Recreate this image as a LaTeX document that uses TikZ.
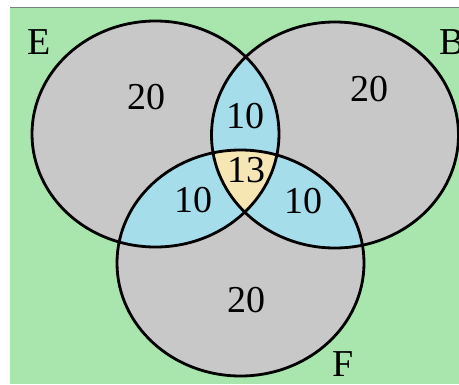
\documentclass[tikz,border=0pt]{standalone}
\usepackage{fontspec}
\setmainfont{Liberation Serif}
\definecolor{bggreen}{RGB}{168,230,174}
\definecolor{setgray}{RGB}{200,200,200}
\definecolor{pairblue}{RGB}{166,221,235}
\definecolor{tripleyellow}{RGB}{245,230,180}
\definecolor{edgegray}{RGB}{120,128,124}
\tikzset{
  setline/.style={draw=black, line width=2.8pt},
  lbl/.style={inner sep=0pt, font=\fontsize{38}{40}\selectfont},
}
\begin{document}
\begin{tikzpicture}[x=1pt,y=-1pt]
\useasboundingbox (0,0) rectangle (459,384);
\fill[white] (0,0) rectangle (459,384);
\fill[bggreen] (10,8) rectangle (459,384);
\draw[edgegray, line width=1pt] (10,7.5) -- (459,7.5);
\def\Epath{(155.5,134) ellipse [x radius=123.5pt, y radius=113pt]}
\def\Bpath{(335,135) ellipse [x radius=123.5pt, y radius=113pt]}
\def\Fpath{(240.5,263) ellipse [x radius=123.5pt, y radius=113pt]}
% base fills
\fill[setgray] \Epath;
\fill[setgray] \Bpath;
\fill[setgray] \Fpath;
% pairwise intersections
\begin{scope}\clip \Epath; \fill[pairblue] \Bpath; \end{scope}
\begin{scope}\clip \Epath; \fill[pairblue] \Fpath; \end{scope}
\begin{scope}\clip \Bpath; \fill[pairblue] \Fpath; \end{scope}
% triple intersection
\begin{scope}\clip \Epath; \clip \Bpath; \fill[tripleyellow] \Fpath; \end{scope}
% outlines
\draw[setline] \Epath;
\draw[setline] \Bpath;
\draw[setline] \Fpath;
% labels
\node[lbl] (lE) at (39.5,42.5) {E};
\node[lbl] (lB) at (452.5,42.5) {B};
\node[lbl] (lF) at (343,364) {F};
\node[lbl] (nE) at (147,97) {20};
\node[lbl] (nB) at (369,89) {20};
\node[lbl] (nF) at (246,300) {20};
\node[lbl] (nEB) at (245,116) {10};
\node[lbl] (nEBF) at (246,170) {13};
\node[lbl] (nEF) at (193,200) {10};
\node[lbl] (nBF) at (303,201) {10};
\end{tikzpicture}
\end{document}
